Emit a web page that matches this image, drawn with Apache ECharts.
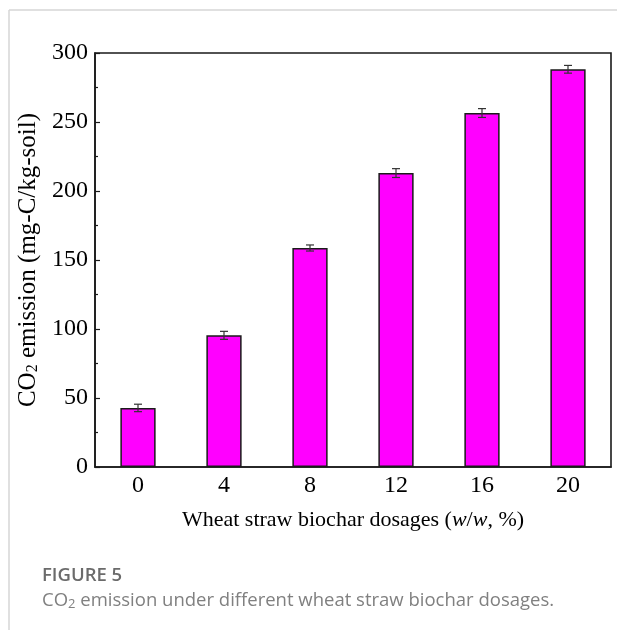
<!DOCTYPE html>
<html>
<head>
<meta charset="utf-8">
<script src="https://cdn.jsdelivr.net/npm/echarts@6/dist/echarts.min.js"></script>
<style>
html,body{margin:0;padding:0;background:#fff;}
#chart{width:617px;height:630px;}
</style>
</head>
<body>
<div id="chart"></div>
<script>
// ---- data ----
var categories = ['0', '4', '8', '12', '16', '20'];
var emission = [42.8, 95.4, 158.7, 213.0, 256.5, 288.2];
var errors = [2.7, 2.9, 2.2, 3.2, 3.2, 2.8];
var yMin = 0, yMax = 300, yInterval = 50;

var serif = "'Liberation Serif', 'Times New Roman', serif";
var sans = "'Open Sans', 'Noto Sans', sans-serif";

var errData = emission.map(function (v, i) { return [i, v - errors[i], v + errors[i]]; });

var chart = echarts.init(document.getElementById('chart'), null, {renderer: 'canvas'});
chart.setOption({
  animation: false,
  backgroundColor: '#ffffff',
  grid: {left: 95, right: 6, top: 53, bottom: 163, show: true, borderColor: '#1a1a1a', borderWidth: 1.6, backgroundColor: 'transparent'},
  xAxis: {
    type: 'category',
    data: categories,
    boundaryGap: true,
    axisLine: {show: true, lineStyle: {color: '#1a1a1a', width: 1.6}},
    axisTick: {show: true, inside: true, alignWithLabel: true, length: 5, lineStyle: {color: '#1a1a1a', width: 1.2}},
    axisLabel: {color: '#000', fontFamily: serif, fontSize: 24, margin: 7},
    name: '{n|Wheat straw biochar dosages (}{i|w}{n|/}{i|w}{n|, %)}',
    nameLocation: 'middle',
    nameGap: 42,
    nameTextStyle: {
      rich: {
        n: {fontFamily: serif, fontSize: 22, color: '#000'},
        i: {fontFamily: serif, fontSize: 22, color: '#000', fontStyle: 'italic'}
      }
    },
    splitLine: {show: false}
  },
  yAxis: {
    type: 'value',
    min: yMin, max: yMax, interval: yInterval,
    axisLine: {show: true, lineStyle: {color: '#1a1a1a', width: 1.6}},
    axisTick: {show: true, inside: true, length: 5, lineStyle: {color: '#1a1a1a', width: 1.2}},
    minorTick: {show: true, splitNumber: 2, length: 3, lineStyle: {color: '#1a1a1a', width: 1.2}},
    axisLabel: {color: '#000', fontFamily: serif, fontSize: 24, margin: 7},
    splitLine: {show: false},
    name: '{n|CO}{s|2}{n| emission (mg-C/kg-soil)}',
    nameLocation: 'middle',
    nameRotate: 90,
    nameGap: 47,
    nameTextStyle: {
      rich: {
        n: {fontFamily: serif, fontSize: 25, color: '#000'},
        s: {fontFamily: serif, fontSize: 16, color: '#000', verticalAlign: 'bottom', padding: [9, 0, 0, 0]}
      }
    }
  },
  series: [
    {
      type: 'bar',
      data: emission,
      barWidth: '41%',
      itemStyle: {color: '#ff00ff', borderColor: '#1a1a1a', borderWidth: 1.5},
      z: 2
    },
    {
      type: 'custom',
      data: errData,
      encode: {x: 0, y: [1, 2]},
      z: 3,
      renderItem: function (params, api) {
        var i = api.value(0);
        var lo = api.coord([i, api.value(1)]);
        var hi = api.coord([i, api.value(2)]);
        var cap = 4;
        var st = {stroke: '#333', lineWidth: 1.2};
        return {
          type: 'group',
          children: [
            {type: 'line', shape: {x1: lo[0], y1: lo[1], x2: hi[0], y2: hi[1]}, style: st},
            {type: 'line', shape: {x1: hi[0] - cap, y1: hi[1], x2: hi[0] + cap, y2: hi[1]}, style: st},
            {type: 'line', shape: {x1: lo[0] - cap, y1: lo[1], x2: lo[0] + cap, y2: lo[1]}, style: st}
          ]
        };
      }
    }
  ],
  graphic: [
    {type: 'line', shape: {x1: 9, y1: 10, x2: 617, y2: 10}, style: {stroke: '#d6d6d6', lineWidth: 1.5}},
    {type: 'line', shape: {x1: 9, y1: 10, x2: 9, y2: 630}, style: {stroke: '#d6d6d6', lineWidth: 1.5}},
    {type: 'text', left: 42, top: 566, style: {text: 'FIGURE 5', fontFamily: sans, fontSize: 18.5, fontWeight: 600, fill: '#6b6b6b'}},
    {type: 'text', left: 42, top: 591, style: {
      text: '{n|CO}{s|2}{n| emission under different wheat straw biochar dosages.}',
      rich: {
        n: {fontFamily: sans, fontSize: 18.5, fill: '#808080', color: '#808080'},
        s: {fontFamily: sans, fontSize: 13, fill: '#808080', color: '#808080', verticalAlign: 'bottom', padding: [7, 0, 0, 0]}
      }
    }}
  ]
});
</script>
</body>
</html>
